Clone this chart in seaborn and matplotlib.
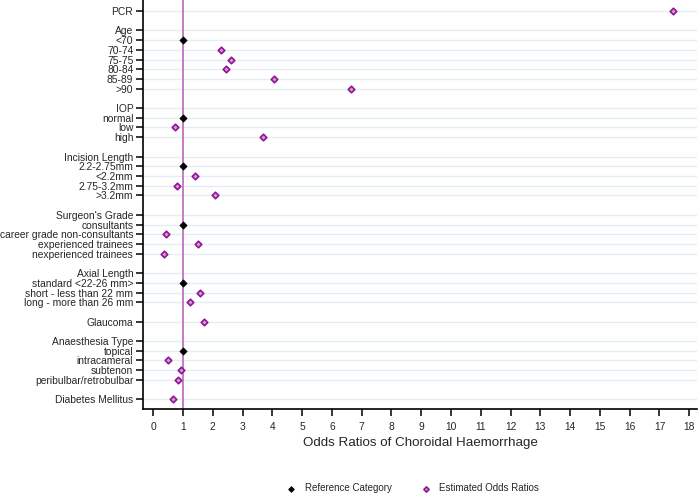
import matplotlib
matplotlib.use("Agg")
import matplotlib.pyplot as plt
import seaborn as sns
import pandas as pd
import numpy as np

# ---- data ----
group_names = ["PCR", "Age", "IOP", "Incision Length", "Surgeon's Grade",
               "Axial Length", "Glaucoma", "Anaesthesia Type", "Diabetes Mellitus"]
age_levels = ["<70", "70-74", "75-75", "80-84", "85-89", ">90"]
age_values = [1.0, 2.27, 2.62, 2.45, 4.05, 6.65]
iop_levels = ["normal", "low", "high"]
iop_values = [1.0, 0.74, 3.70]
incision_levels = ["2.2-2.75mm", "<2.2mm", "2.75-3.2mm", ">3.2mm"]
incision_values = [1.0, 1.39, 0.81, 2.09]
surgeon_levels = ["consultants", "career grade non-consultants",
                  "experienced trainees", "nexperienced trainees"]
surgeon_values = [1.0, 0.44, 1.49, 0.37]
axial_levels = ["standard <22-26 mm>", "short - less than 22 mm", "long - more than 26 mm"]
axial_values = [1.0, 1.58, 1.24]
anaesthesia_levels = ["topical", "intracameral", "subtenon", "peribulbar/retrobulbar"]
anaesthesia_values = [1.0, 0.49, 0.94, 0.82]
pcr_value = 17.47
glaucoma_value = 1.70
diabetes_value = 0.65

category_labels = ["Reference Category", "Estimated Odds Ratios"]

# ---- build rows (header rows without value, blank row between groups) ----
groups = [
    (group_names[0], [], [], pcr_value),
    (group_names[1], age_levels, age_values, None),
    (group_names[2], iop_levels, iop_values, None),
    (group_names[3], incision_levels, incision_values, None),
    (group_names[4], surgeon_levels, surgeon_values, None),
    (group_names[5], axial_levels, axial_values, None),
    (group_names[6], [], [], glaucoma_value),
    (group_names[7], anaesthesia_levels, anaesthesia_values, None),
    (group_names[8], [], [], diabetes_value),
]

tick_pos, tick_lab, rows = [], [], []
pos = 0
for gname, levels, vals, single in groups:
    tick_pos.append(pos); tick_lab.append(gname)
    if single is not None:
        rows.append(dict(y=pos, x=single, kind=category_labels[1]))
    pos += 1
    for i, (lv, v) in enumerate(zip(levels, vals)):
        tick_pos.append(pos); tick_lab.append(lv)
        rows.append(dict(y=pos, x=v, kind=category_labels[0] if i == 0 else category_labels[1]))
        pos += 1
    pos += 1  # blank spacer row
df = pd.DataFrame(rows)

# ---- plot ----
sns.set_style("white")
plt.rcParams["font.family"] = ["Liberation Sans", "DejaVu Sans"]

fig = plt.figure(figsize=(6.98, 4.96), dpi=100)
ax = fig.add_axes([0.205, 0.175, 0.794, 0.825])

for yp in tick_pos:
    ax.axhline(yp, color="#e4edf1", lw=1.0, zorder=0)
ax.axvline(1, color="#c47cc8", lw=1.4, zorder=1)

ref = df[df["kind"] == category_labels[0]]
est = df[df["kind"] == category_labels[1]]
sns.scatterplot(data=ref, x="x", y="y", marker="D", s=13, color="black",
                edgecolor="black", linewidth=0.6, ax=ax, zorder=3,
                label=category_labels[0])
sns.scatterplot(data=est, x="x", y="y", marker="D", s=11, color="#d59ad8",
                edgecolor="#8f1593", linewidth=1.2, ax=ax, zorder=3,
                label=category_labels[1])

ax.set_xlim(-0.34, 18.27)
ax.set_ylim(41.02, -1.13)
ax.set_xticks(range(0, 19))
ax.set_yticks(tick_pos)
ax.set_yticklabels(tick_lab)
ax.tick_params(axis="y", length=5, width=1.1, pad=2, labelsize=7.4, color="black", left=True)
ax.tick_params(axis="x", length=5, width=1.1, pad=4, labelsize=7.4, color="black", bottom=True)
for s in ["top", "right"]:
    ax.spines[s].set_visible(False)
for s in ["left", "bottom"]:
    ax.spines[s].set_color("black")
    ax.spines[s].set_linewidth(1.2)
ax.set_xlabel("Odds Ratios of Choroidal Haemorrhage", fontsize=9.6, labelpad=4)
ax.set_ylabel("")

h, l = ax.get_legend_handles_labels()
ax.get_legend().remove()
fig.legend(h, l, loc="center", bbox_to_anchor=(0.588, 0.016), ncol=2,
           frameon=False, fontsize=7, handletextpad=0.4, columnspacing=2.5,
           markerscale=0.8)

fig.savefig("out.png", dpi=100)
